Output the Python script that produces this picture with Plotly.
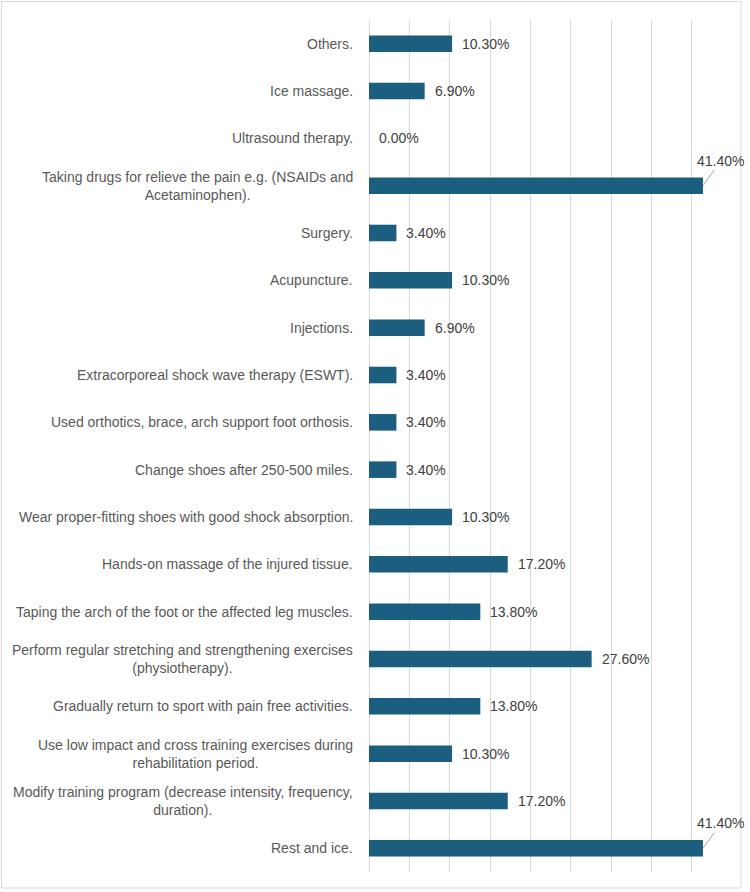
import plotly.graph_objects as go

categories = [
    "Others.",
    "Ice massage.",
    "Ultrasound therapy.",
    "Taking drugs for relieve the pain e.g. (NSAIDs and<br>Acetaminophen).",
    "Surgery.",
    "Acupuncture.",
    "Injections.",
    "Extracorporeal shock wave therapy (ESWT).",
    "Used orthotics, brace, arch support foot orthosis.",
    "Change shoes after 250-500 miles.",
    "Wear proper-fitting shoes with good shock absorption.",
    "Hands-on massage of the injured tissue.",
    "Taping the arch of the foot or the affected leg muscles.",
    "Perform regular stretching and strengthening exercises<br>(physiotherapy).",
    "Gradually return to sport with pain free activities.",
    "Use low impact and cross training exercises during<br>rehabilitation period.",
    "Modify training program (decrease intensity, frequency,<br>duration).",
    "Rest and ice.",
]
values = [10.3, 6.9, 0.0, 41.4, 3.4, 10.3, 6.9, 3.4, 3.4, 3.4, 10.3, 17.2, 13.8, 27.6, 13.8, 10.3, 17.2, 41.4]

W, H = 750, 892
ML, MR, MT, MB = 369, 18, 20, 20
BAR = "#1B5E80"
FONT = "Liberation Sans"

fig = go.Figure(go.Bar(
    x=values, y=categories, orientation="h",
    marker=dict(color=BAR, line=dict(width=0)),
    hoverinfo="skip",
))

ann = []
for c, v in zip(categories, values):
    ann.append(dict(x=0, y=c, xref="x", yref="y", text=c, showarrow=False,
                    xanchor="right", yanchor="middle", align="center", xshift=-14,
                    font=dict(family=FONT, size=14, color="#595959")))
    label = f"{v:.2f}%"
    if v >= 40:
        ann.append(dict(x=v, y=c, xref="x", yref="y", text=label, showarrow=True,
                        arrowhead=0, arrowwidth=1, arrowcolor="#a6a6a6", ax=18, ay=-25,
                        standoff=0, startstandoff=0,
                        font=dict(family=FONT, size=14, color="#404040")))
    else:
        ann.append(dict(x=v, y=c, xref="x", yref="y", text=label, showarrow=False,
                        xanchor="left", yanchor="middle", xshift=8,
                        font=dict(family=FONT, size=14, color="#404040")))

pw = W - ML - MR
ph = H - MT - MB
def px2paper_x(p):
    return (p - ML) / pw
def px2paper_y(p):
    return 1 - (p - MT) / ph

n = len(categories)
fig.update_layout(
    width=W, height=H,
    margin=dict(l=ML, r=MR, t=MT, b=MB),
    paper_bgcolor="white", plot_bgcolor="white",
    showlegend=False,
    bargap=0.65,
    annotations=ann,
    xaxis=dict(range=[0, 45], dtick=5, showgrid=True, gridcolor="#d9d9d9", gridwidth=1,
               showticklabels=False, zeroline=True, zerolinecolor="#d9d9d9", zerolinewidth=1,
               showline=False, ticks="", fixedrange=True),
    yaxis=dict(range=[n - 0.5, -0.5], autorange=False, showticklabels=False, showgrid=False,
               ticks="", showline=False, fixedrange=True),
    shapes=[dict(type="rect", xref="paper", yref="paper",
                 x0=px2paper_x(1.5), x1=px2paper_x(741), y0=px2paper_y(1.5), y1=px2paper_y(888),
                 line=dict(color="#d9d9d9", width=1), fillcolor="rgba(0,0,0,0)", layer="below")],
)

fig.write_html("out.html", config={"displayModeBar": False},
               post_script="document.body.style.margin='0px';")
